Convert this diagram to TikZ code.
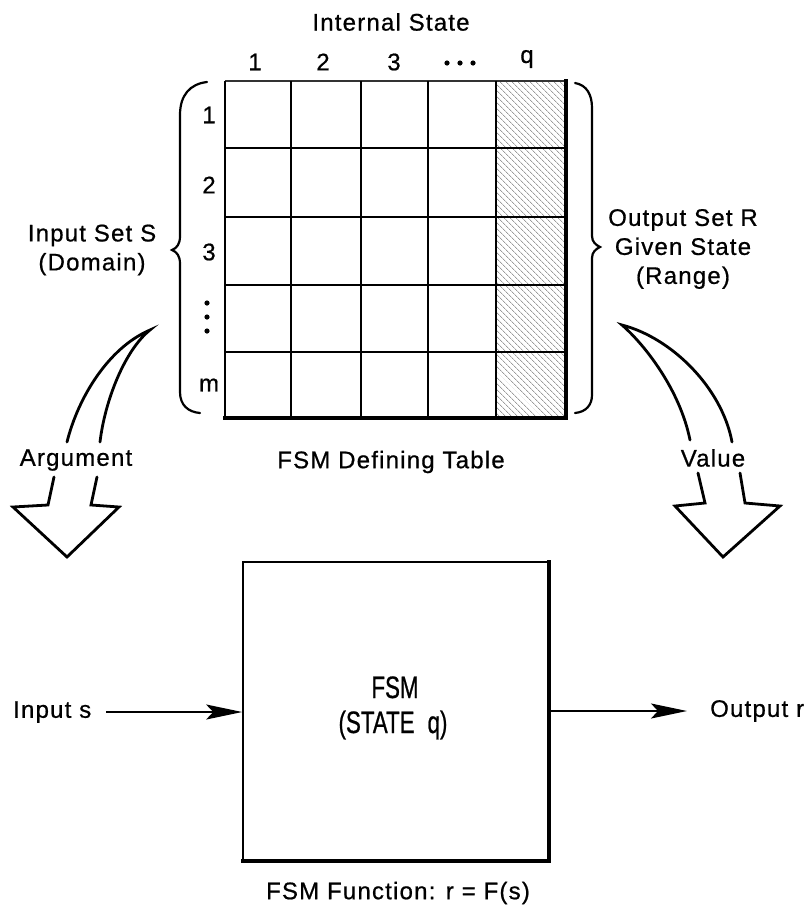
\documentclass[tikz,border=0pt]{standalone}
\usepackage{fontspec}
\setmainfont{Liberation Sans}[LetterSpace=5, FakeBold=0.7]
\newfontfamily\narrowfont{Liberation Sans}[FakeStretch=0.72, FakeBold=0.7]
\usetikzlibrary{arrows.meta,patterns.meta}

\tikzset{
  txt/.style={inner sep=0pt, font=\fontsize{24}{29}\selectfont},
  blocktxt/.style={inner sep=0pt, anchor=base, font=\narrowfont\fontsize{31}{35}\selectfont},
  gridline/.style={line width=1.6pt},
  heavy/.style={line width=3.8pt},
  brace/.style={line width=2.2pt, line cap=round},
  hollow/.style={line width=2.8pt, line join=miter, line cap=round},
  flow/.style={line width=1.9pt, -{Stealth[length=36pt,width=15pt,inset=7pt]}},
  dotmark/.style={fill=black}
}

\begin{document}
\begin{tikzpicture}[x=1pt,y=-1pt]
\useasboundingbox (0,0) rectangle (811,913);

% ---------- defining table ----------
\coordinate (tl) at (225,81);
\coordinate (br) at (566,418);
\fill[pattern={Lines[angle=-45,distance=4pt,line width=0.55pt]}, pattern color=black!60]
  (496,81) rectangle (566,418);
% rows
\foreach \y in {148,217,285,352}
  \draw[gridline] (225,\y) -- (566,\y);
\draw[line width=1.2pt, black!80] (tl) -- (566,81);
% columns
\foreach \x in {291,361,428,496}
  \draw[gridline] (\x,81) -- (\x,418);
\draw[gridline] (tl) -- (225,418);
\draw[heavy] (566,79) -- (br) -- (223,418);

% column headings
\node[txt] (title) at (391,22) {Internal State};
\node[txt] (c1) at (255,62) {1};
\node[txt] (c2) at (323,62) {2};
\node[txt] (c3) at (394,62) {3};
\node[txt] (cq) at (527,59) {q};
\foreach \x in {447,460,473}
  \fill[dotmark] (\x,63) circle (2.6);

% row headings
\node[txt] (r1) at (209,115) {1};
\node[txt] (r2) at (209,185) {2};
\node[txt] (r3) at (209,252) {3};
\node[txt] (rm) at (209,385) {m};
\foreach \y in {303,317,331}
  \fill[dotmark] (207,\y) circle (2.6);

\node[txt] (tabname) at (391,462) {FSM Defining Table};

% ---------- braces ----------
\draw[brace] (207,82) .. controls (190,84) and (180,95) .. (180,115)
  -- (180,236) .. controls (180,244) and (177,248) .. (172,250)
  .. controls (177,252) and (180,256) .. (180,264)
  -- (180,392) .. controls (180,405) and (188,412) .. (200,413);
\draw[brace] (575,83) .. controls (587,85) and (592,95) .. (592,108)
  -- (592,236) .. controls (592,242) and (596,245) .. (600,247)
  .. controls (596,249) and (592,252) .. (592,258)
  -- (592,395) .. controls (592,405) and (586,412) .. (575,413);

\node[txt, align=center] (inset) at (92,250) {Input Set S\\(Domain)};
\node[txt, align=center] (outset) at (683,249) {Output Set R\\Given State\\(Range)};

% ---------- hollow curved arrows ----------
\draw[hollow] (67,442) .. controls (78,398) and (108,348) .. (150,330)
  .. controls (125,350) and (105,400) .. (100,442);
\draw[hollow] (54,477) -- (48,505) -- (13,507) -- (67,557) -- (119,507) -- (91,505) -- (97,477);
\node[txt] (arg) at (76,460) {Argument};

\draw[hollow] (690,440) .. controls (680,390) and (645,345) .. (622,325)
  .. controls (672,338) and (722,388) .. (732,442);
\draw[hollow] (698,473) -- (705,503) -- (675,506) -- (723,557) -- (780,506) -- (745,503) -- (740,473);
\node[txt] (val) at (713,458) {Value};

% ---------- FSM block ----------
\node[draw, line width=1.6pt, minimum width=305pt, minimum height=298pt, inner sep=0pt] (fsm) at (395.5,711) {};
\draw[heavy] ([yshift=1pt]fsm.north east) -- (fsm.south east) -- ([xshift=-1pt]fsm.south west);
\node[blocktxt] (fsmname) at (395,698) {FSM};
\node[blocktxt] (fsmstate) at (393,733) {(STATE\hspace{13pt}q)};

\node[txt, anchor=west] (ins) at (13,712) {Input s};
\node[txt, anchor=west] (outs) at (710,711) {Output r};
\draw[flow] ([xshift=15pt]ins.east) -- (fsm.west |- ins.east);
\draw[flow] (fsm.east |- outs.west) -- ([xshift=-23pt]outs.west);

\node[txt] (fn) at (398,893) {FSM Function: r = F(s)};
\end{tikzpicture}
\end{document}
